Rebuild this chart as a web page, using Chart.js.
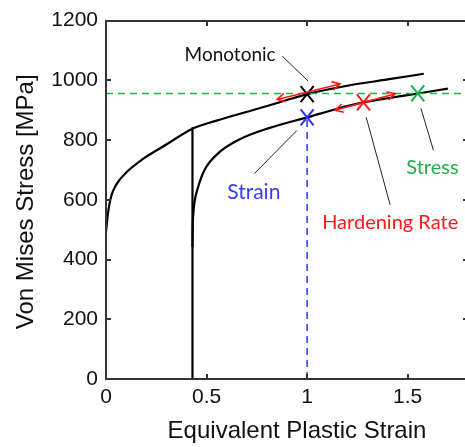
<!DOCTYPE html>
<html>
<head>
<meta charset="utf-8">
<script src="https://cdn.jsdelivr.net/npm/chart.js@4/dist/chart.umd.min.js"></script>
<style>
  html, body { margin: 0; padding: 0; background: #fff; overflow: hidden; }
  #wrap { width: 465px; height: 447px; overflow: hidden; }
  canvas { display: block; }
</style>
</head>
<body>
<div id="wrap"><canvas id="c" width="480" height="447"></canvas></div>
<script>
// Monotonic flow curve: equivalent plastic strain vs von Mises stress [MPa]
const monoStrain = [0, 0.01, 0.025, 0.05, 0.1, 0.18, 0.3, 0.43, 0.55, 0.72, 0.86, 1.0, 1.2, 1.4, 1.58];
const monoStress = [492, 556, 610, 650, 691, 735, 785, 838, 865, 898, 926, 954, 982, 1003, 1022];

// Unloading at the pre-strain (stress drops to zero at constant plastic strain)
const unloadStrain = [0.43, 0.43];
const unloadStress = [0, 843];

// Reloading flow curve after the pre-strain
const reloadStrain = [0.43, 0.431, 0.435, 0.44, 0.46, 0.49, 0.56, 0.66, 0.81, 1.0, 1.15, 1.28, 1.42, 1.55, 1.70];
const reloadStress = [443, 503, 560, 592, 647, 700, 757, 801, 840, 876, 905, 926, 942, 956, 972];

// Reference levels
const stressLevel = 956;   // horizontal dashed line
const strainLevel = 1.0;   // vertical dashed line

// Marked points: monotonic, strain, hardening rate, stress
const markStrain = [1.0, 1.0, 1.28, 1.55];
const markStress = [954, 876, 926, 956];

// Tangent arrows (hardening-rate comparison): [x1, y1, x2, y2]
const arrowMono   = [0.851, 936, 1.164, 988];
const arrowReload = [1.139, 900, 1.438, 955];

// Axis ranges and ticks
const xRange = [0, 1.8];
const yRange = [0, 1200];
const xTickValues = [0, 0.5, 1, 1.5];
const yTickValues = [0, 200, 400, 600, 800, 1000, 1200];

const pts = (xs, ys) => xs.map((x, i) => ({ x: x, y: ys[i] }));

// Annotation callouts (text anchor and leader line, in data units)
const callouts = [
  { text: 'Monotonic',      color: '#111111', size: 19, at: [0.617, 1064], line: [0.876, 1081, 1.005, 998] },
  { text: 'Strain',         color: '#3a3aff', size: 21, at: [0.735, 603],  line: [0.738, 688, 0.949, 832] },
  { text: 'Hardening Rate', color: '#ff1a1a', size: 20, at: [1.413, 502],  line: [1.294, 876, 1.413, 583] },
  { text: 'Stress',         color: '#1fae4a', size: 20, at: [1.623, 685],  line: [1.566, 906, 1.628, 766] }
];

const markColors = ['#000000', '#2f2fff', '#ff1a1a', '#1fae4a'];
const AXIS_FONT = '"Liberation Sans", Arial, sans-serif';
const NOTE_FONT = 'Lato, "Open Sans", sans-serif';
const AXIS_COLOR = '#333333';

// X-shaped point glyph
function drawX(ctx, x, y, color) {
  ctx.save();
  ctx.setLineDash([]);
  ctx.strokeStyle = color;
  ctx.lineWidth = 2;
  ctx.beginPath();
  ctx.moveTo(x - 6.5, y - 8); ctx.lineTo(x + 6.5, y + 8);
  ctx.moveTo(x + 6.5, y - 8); ctx.lineTo(x - 6.5, y + 8);
  ctx.stroke();
  ctx.restore();
}

const overlay = {
  id: 'overlay',
  afterDraw(chart) {
    const ctx = chart.ctx;
    const xs = chart.scales.x, ys = chart.scales.y;
    const px = v => xs.getPixelForValue(v), py = v => ys.getPixelForValue(v);
    const a = chart.chartArea;

    ctx.save();
    ctx.setLineDash([]);
    ctx.globalAlpha = 1;
    ctx.globalCompositeOperation = 'source-over';

    // marked points
    chart.getDatasetMeta(0).data.forEach((p, i) => drawX(ctx, p.x, p.y, markColors[i]));

    // red tangent arrows
    ctx.strokeStyle = '#ff1a1a';
    ctx.lineWidth = 1.6;
    [arrowMono, arrowReload].forEach(ar => {
      const x1 = px(ar[0]), y1 = py(ar[1]), x2 = px(ar[2]), y2 = py(ar[3]);
      ctx.beginPath();
      ctx.moveTo(x1, y1); ctx.lineTo(x2, y2);
      [[x1, y1, x2, y2], [x2, y2, x1, y1]].forEach(([ax, ay, bx, by]) => {
        const ang = Math.atan2(by - ay, bx - ax), len = 9, spread = 0.5;
        ctx.moveTo(bx - len * Math.cos(ang - spread), by - len * Math.sin(ang - spread));
        ctx.lineTo(bx, by);
        ctx.lineTo(bx - len * Math.cos(ang + spread), by - len * Math.sin(ang + spread));
      });
      ctx.stroke();
    });

    // callout leader lines and labels
    ctx.strokeStyle = '#222';
    ctx.lineWidth = 1;
    callouts.forEach(c => {
      ctx.beginPath();
      ctx.moveTo(px(c.line[0]), py(c.line[1]));
      ctx.lineTo(px(c.line[2]), py(c.line[3]));
      ctx.stroke();
      ctx.fillStyle = c.color;
      ctx.font = c.size + 'px ' + NOTE_FONT;
      ctx.textAlign = 'center';
      ctx.textBaseline = 'alphabetic';
      ctx.fillText(c.text, px(c.at[0]), py(c.at[1]));
    });

    // axes frame: 2px strips straddling the plot-area edges
    const L = Math.round(px(xRange[0])), R = Math.round(px(xRange[1]));
    const T = Math.round(py(yRange[1])), B = Math.round(py(yRange[0]));
    ctx.fillStyle = AXIS_COLOR;
    ctx.fillRect(L - 1, T - 1, R - L + 2, 2);
    ctx.fillRect(L - 1, B - 1, R - L + 2, 2);
    ctx.fillRect(L - 1, T - 1, 2, B - T + 2);
    ctx.fillRect(R - 1, T - 1, 2, B - T + 2);

    // inward tick marks on all four sides
    const tl = 5;
    xTickValues.forEach(v => {
      const x = Math.round(px(v));
      ctx.fillRect(x - 1, B - tl, 2, tl);
      ctx.fillRect(x - 1, T, 2, tl);
    });
    yTickValues.forEach(v => {
      const y = Math.round(py(v));
      ctx.fillRect(L, y - 1, tl, 2);
      ctx.fillRect(R - tl, y - 1, tl, 2);
    });

    // axis titles
    ctx.fillStyle = '#111';
    ctx.font = '24px ' + AXIS_FONT;
    ctx.textAlign = 'center';
    ctx.textBaseline = 'alphabetic';
    ctx.fillText('Equivalent Plastic Strain', a.left + 191, 438);
    ctx.translate(33, (a.top + a.bottom) / 2 + 2);
    ctx.rotate(-Math.PI / 2);
    ctx.fillText('Von Mises Stress [MPa]', 0, 0);
    ctx.restore();
  }
};

new Chart(document.getElementById('c'), {
  type: 'scatter',
  data: {
    datasets: [
      { data: pts(markStrain, markStress), showLine: false, pointRadius: 0, order: 0 },
      { data: pts(xRange, [stressLevel, stressLevel]), showLine: true, borderColor: '#22b14c',
        borderWidth: 1.6, borderDash: [7, 5], pointRadius: 0, order: 1 },
      { data: pts([strainLevel, strainLevel], [0, markStress[1]]), showLine: true, borderColor: '#3344ff',
        borderWidth: 1.6, borderDash: [7, 5], pointRadius: 0, order: 1 },
      { data: pts(monoStrain, monoStress), showLine: true, borderColor: '#000', borderWidth: 2.2,
        pointRadius: 0, cubicInterpolationMode: 'monotone', order: 2 },
      { data: pts(unloadStrain, unloadStress), showLine: true, borderColor: '#000', borderWidth: 2.2,
        pointRadius: 0, order: 2 },
      { data: pts(reloadStrain, reloadStress), showLine: true, borderColor: '#000', borderWidth: 2.2,
        pointRadius: 0, cubicInterpolationMode: 'monotone', order: 2 }
    ]
  },
  options: {
    responsive: false,
    animation: false,
    devicePixelRatio: 1,
    layout: { padding: { left: 0, top: 17, right: 12, bottom: 0 } },
    plugins: { legend: { display: false }, tooltip: { enabled: false } },
    scales: {
      x: {
        type: 'linear', min: xRange[0], max: xRange[1],
        grid: { display: false, drawTicks: false, tickLength: 0 },
        border: { display: false },
        afterBuildTicks: s => { s.ticks = xTickValues.map(v => ({ value: v })); },
        afterFit: s => { s.height = 68; },
        ticks: { padding: 6, color: '#111', font: { family: AXIS_FONT, size: 21 },
                 maxRotation: 0, autoSkip: false, callback: v => String(v) }
      },
      y: {
        type: 'linear', min: yRange[0], max: yRange[1],
        grid: { display: false, drawTicks: false, tickLength: 0 },
        border: { display: false },
        afterBuildTicks: s => { s.ticks = yTickValues.map(v => ({ value: v })); },
        afterFit: s => { s.width = 106; },
        ticks: { padding: 8, color: '#111', font: { family: AXIS_FONT, size: 21 },
                 callback: v => String(v) }
      }
    }
  },
  plugins: [overlay]
});
</script>
</body>
</html>
